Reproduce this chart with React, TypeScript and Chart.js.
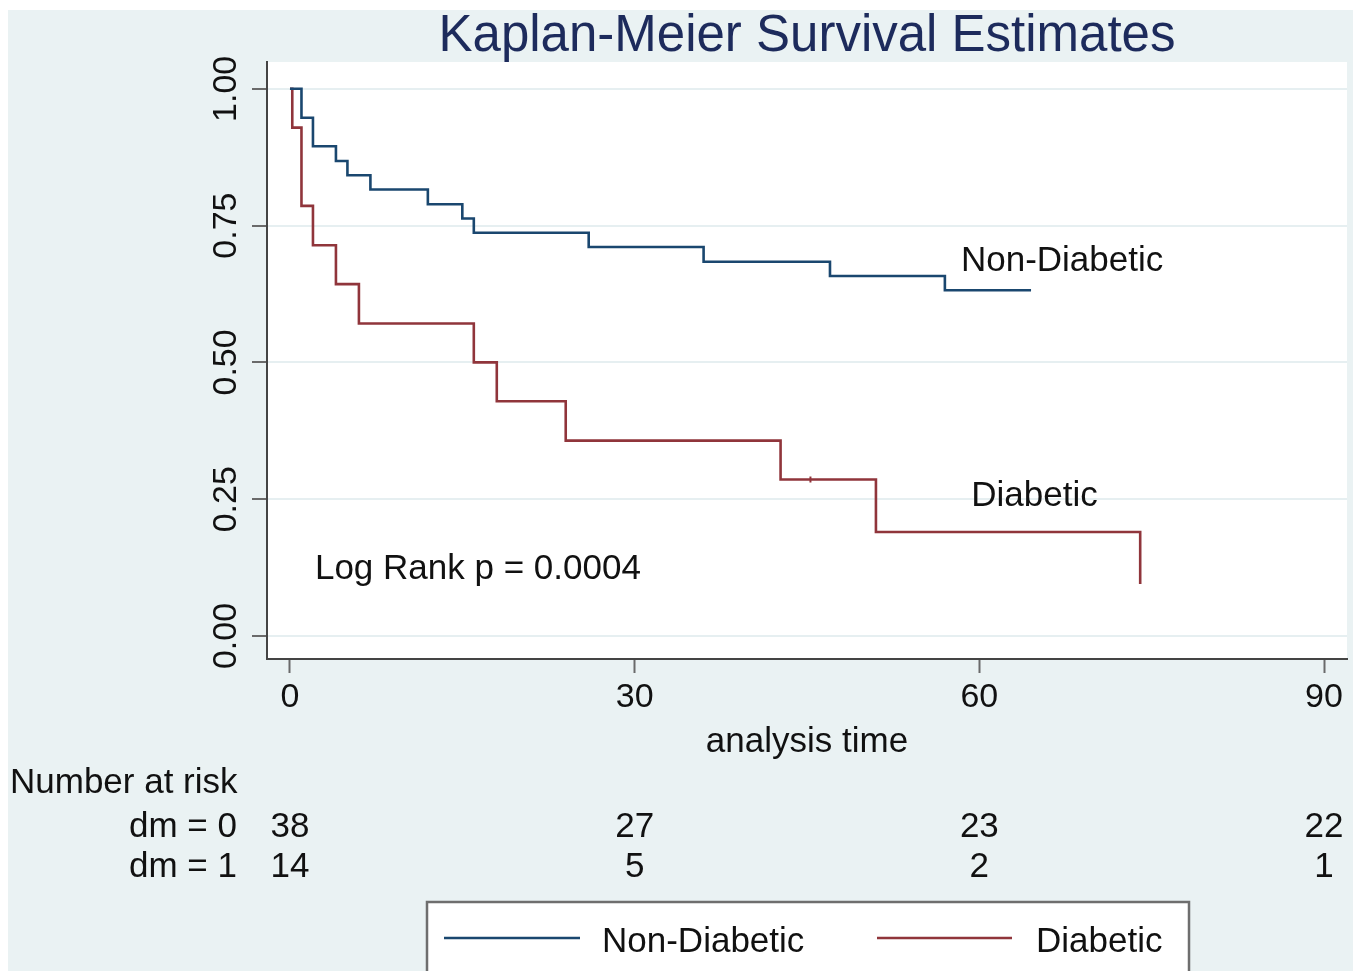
import React, { useEffect, useRef } from "react";
import { Chart, registerables } from "chart.js";

Chart.register(...registerables);

// ---- data ----
const nonDiabeticTimes = [0, 1, 2, 4, 5, 7, 12, 15, 16, 26, 36, 47, 57, 64.5];
const nonDiabeticSurv = [1, 0.947, 0.895, 0.868, 0.842, 0.816, 0.789, 0.763, 0.737, 0.711, 0.684, 0.658, 0.632, 0.632];
const diabeticTimes = [0, 0.2, 1, 2, 4, 6, 16, 18, 24, 42.7, 51, 74];
const diabeticSurv = [1, 0.929, 0.786, 0.714, 0.643, 0.571, 0.5, 0.429, 0.357, 0.286, 0.19, 0.095];
const censorTimes = [45.3];
const censorSurv = [0.286];
const xTicks = [0, 30, 60, 90];
const yTicks = [0, 0.25, 0.5, 0.75, 1];
const seriesLabels = ["Non-Diabetic", "Diabetic"];
const riskGroupLabels = ["dm = 0", "dm = 1"];
const riskNonDiabetic = [38, 27, 23, 22];
const riskDiabetic = [14, 5, 2, 1];
const titleText = "Kaplan-Meier Survival Estimates";
const xTitle = "analysis time";
const riskTitle = "Number at risk";
const pValueText = "Log Rank p = 0.0004";

const W = 1345;
const H = 963;
const FONT = "'Liberation Sans', Arial, Helvetica, sans-serif";
const BLUE = "#1a476f";
const RED = "#90353b";
const BG = "#eaf2f3";
const TEXT = "#111111";

const decorPlugin = {
  id: "decor",
  beforeDraw(chart: any) {
    const { ctx, chartArea } = chart;
    ctx.save();
    ctx.fillStyle = BG;
    ctx.fillRect(0, 2, chart.width, chart.height - 2);
    ctx.fillStyle = "#ffffff";
    ctx.fillRect(chartArea.left, chartArea.top, chartArea.right - chartArea.left, chartArea.bottom - chartArea.top);
    ctx.restore();
  },
  afterDraw(chart: any) {
    const { ctx, chartArea } = chart;
    const xs = chart.scales.x;
    const ys = chart.scales.y;
    const cx = (chartArea.left + chartArea.right) / 2;
    ctx.save();

    // title
    ctx.fillStyle = "#1d2b5c";
    ctx.font = `51px ${FONT}`;
    ctx.textAlign = "center";
    ctx.textBaseline = "alphabetic";
    ctx.fillText(titleText, cx, 43);

    // y tick labels (rotated)
    ctx.fillStyle = TEXT;
    ctx.font = `34px ${FONT}`;
    yTicks.forEach((v) => {
      ctx.save();
      ctx.translate(chartArea.left - 40, ys.getPixelForValue(v));
      ctx.rotate(-Math.PI / 2);
      ctx.textAlign = "center";
      ctx.textBaseline = "middle";
      ctx.fillText(v.toFixed(2), 0, 0);
      ctx.restore();
    });

    // in-plot annotations
    ctx.font = `35px ${FONT}`;
    ctx.textAlign = "left";
    ctx.textBaseline = "alphabetic";
    ctx.fillText(seriesLabels[0], xs.getPixelForValue(58.4), ys.getPixelForValue(0.667));
    ctx.fillText(seriesLabels[1], xs.getPixelForValue(59.3), ys.getPixelForValue(0.238));
    ctx.fillText(pValueText, xs.getPixelForValue(2.17), ys.getPixelForValue(0.104));

    // x axis title
    ctx.textAlign = "center";
    ctx.fillText(xTitle, cx, 744);

    // risk table
    ctx.textAlign = "left";
    ctx.fillText(riskTitle, 2, 785);
    const rows = [riskNonDiabetic, riskDiabetic];
    const rowY = [829, 869];
    rows.forEach((row, r) => {
      ctx.textAlign = "right";
      ctx.fillText(riskGroupLabels[r], chartArea.left - 30, rowY[r]);
      ctx.textAlign = "center";
      row.forEach((n, i) => ctx.fillText(String(n), xs.getPixelForValue(xTicks[i]), rowY[r]));
    });

    // legend box
    const lx = 419, ly = 894, lw = 762;
    ctx.fillStyle = "#ffffff";
    ctx.fillRect(lx, ly, lw, H - ly + 10);
    ctx.strokeStyle = "#6e6e6e";
    ctx.lineWidth = 2.5;
    ctx.strokeRect(lx, ly, lw, H - ly + 10);
    const items = [
      { x0: 436, x1: 572, tx: 594 },
      { x0: 869, x1: 1004, tx: 1028 },
    ];
    items.forEach((it, i) => {
      const ds = chart.data.datasets[i];
      ctx.strokeStyle = ds.borderColor;
      ctx.lineWidth = 2.4;
      ctx.beginPath();
      ctx.moveTo(it.x0, 930);
      ctx.lineTo(it.x1, 930);
      ctx.stroke();
      ctx.fillStyle = TEXT;
      ctx.textAlign = "left";
      ctx.fillText(ds.label, it.tx, 944);
    });

    ctx.restore();
  },
};

export default function App() {
  const ref = useRef<HTMLCanvasElement>(null);
  useEffect(() => {
    if (!ref.current) return;
    const chart = new Chart(ref.current, {
      type: "line",
      data: {
        datasets: [
          {
            label: seriesLabels[0],
            data: nonDiabeticTimes.map((t, i) => ({ x: t, y: nonDiabeticSurv[i] })),
            borderColor: BLUE,
            borderWidth: 2.6,
            stepped: "before",
            pointRadius: 0,
            fill: false,
          },
          {
            label: seriesLabels[1],
            data: diabeticTimes.map((t, i) => ({ x: t, y: diabeticSurv[i] })),
            borderColor: RED,
            borderWidth: 2.6,
            stepped: "before",
            pointRadius: 0,
            fill: false,
          },
          {
            label: "censored",
            data: censorTimes.map((t, i) => ({ x: t, y: censorSurv[i] })),
            borderColor: RED,
            backgroundColor: RED,
            showLine: false,
            pointStyle: "line",
            rotation: 90,
            pointRadius: 3,
            borderWidth: 2,
          },
        ],
      } as any,
      options: {
        animation: false,
        responsive: false,
        maintainAspectRatio: false,
        events: [],
        layout: { padding: { top: 54, right: 0, left: 0, bottom: 0 } },
        plugins: { legend: { display: false }, tooltip: { enabled: false }, title: { display: false } },
        scales: {
          x: {
            type: "linear",
            min: -2,
            max: 92,
            afterBuildTicks: (s: any) => {
              s.ticks = xTicks.map((v) => ({ value: v }));
            },
            afterFit: (s: any) => {
              s.height = 312;
              s.paddingLeft = 0;
              s.paddingRight = 0;
            },
            grid: { drawOnChartArea: false, drawTicks: true, tickLength: 14, tickColor: "#6a6a6a", tickWidth: 2 },
            border: { color: "#444444", width: 2 },
            ticks: { font: { family: FONT, size: 34 }, color: TEXT, padding: 4, maxRotation: 0, minRotation: 0 },
          },
          y: {
            type: "linear",
            min: -0.042,
            max: 1.049,
            afterBuildTicks: (s: any) => {
              s.ticks = yTicks.map((v) => ({ value: v }));
            },
            afterFit: (s: any) => {
              s.width = 259;
              s.paddingTop = 0;
              s.paddingBottom = 0;
            },
            grid: { color: "#e6eff1", lineWidth: 2, drawTicks: true, tickLength: 15, tickColor: "#6a6a6a", tickWidth: 2 },
            border: { color: "#444444", width: 2 },
            ticks: { display: false },
          },
        },
      } as any,
      plugins: [decorPlugin],
    });
    return () => chart.destroy();
  }, []);
  return (
    <div style={{ width: W, height: H }}>
      <canvas ref={ref} width={W} height={H} style={{ display: "block", width: W, height: H }} />
    </div>
  );
}
